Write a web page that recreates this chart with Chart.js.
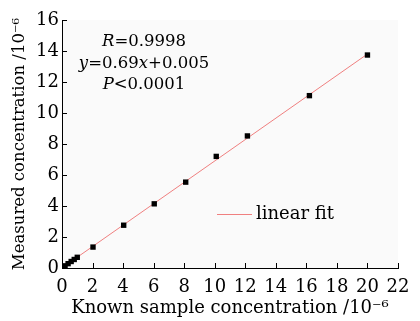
<!DOCTYPE html>
<html>
<head>
<meta charset="utf-8">
<script src="https://cdn.jsdelivr.net/npm/chart.js@4.4.1/dist/chart.umd.min.js"></script>
<style>
  html, body { margin: 0; padding: 0; background: #fff; }
  #wrap { width: 420px; height: 321px; }
</style>
</head>
<body>
<div id="wrap"><canvas id="myChart"></canvas></div>
<script>
// data
const knownConc = [0.1, 0.2, 0.4, 0.6, 0.8, 1.0, 2.03, 4.04, 6.04, 8.1, 10.1, 12.14, 16.2, 20.0];
const measuredConc = [0.07, 0.14, 0.28, 0.42, 0.55, 0.69, 1.35, 2.76, 4.14, 5.54, 7.2, 8.52, 11.12, 13.74];
const fitX = [0.1, 20.0];
const fitY = [0.074, 13.805];
const xTicks = [0, 2, 4, 6, 8, 10, 12, 14, 16, 18, 20, 22];
const yTicks = [0, 2, 4, 6, 8, 10, 12, 14, 16];
const statLines = [
  [{ t: "R", i: true }, { t: "=0.9998" }],
  [{ t: "y", i: true }, { t: "=0.69" }, { t: "x", i: true }, { t: "+0.005" }],
  [{ t: "P", i: true }, { t: "<0.0001" }],
];

const FONT = "'DejaVu Serif', 'Liberation Serif', serif";

const extras = {
  id: "extras",
  beforeDraw(chart) {
    const { ctx, chartArea: a } = chart;
    ctx.save();
    ctx.fillStyle = "#fafafa";
    ctx.fillRect(a.left, a.top, a.right - a.left, a.bottom - a.top);
    ctx.restore();
  },
  afterDraw(chart) {
    const { ctx, chartArea: a } = chart;
    const xs = chart.scales.x, ys = chart.scales.y;
    ctx.save();
    // inward ticks
    ctx.strokeStyle = "#000";
    ctx.lineWidth = 1;
    ctx.beginPath();
    xTicks.forEach((v) => {
      const px = Math.round(xs.getPixelForValue(v)) + 0.5;
      ctx.moveTo(px, a.bottom);
      ctx.lineTo(px, a.bottom - 5);
    });
    yTicks.forEach((v) => {
      const py = Math.round(ys.getPixelForValue(v)) + 0.5;
      ctx.moveTo(a.left, py);
      ctx.lineTo(a.left + 5, py);
    });
    ctx.stroke();

    // stats text
    ctx.fillStyle = "#000";
    ctx.textBaseline = "middle";
    ctx.textAlign = "left";
    const cx = 144;
    statLines.forEach((runs, k) => {
      const y = 42 + k * 21.5;
      let w = 0;
      runs.forEach((r) => {
        ctx.font = (r.i ? "italic " : "") + "16.5px " + FONT;
        w += ctx.measureText(r.t).width;
      });
      let x = cx - w / 2;
      runs.forEach((r) => {
        ctx.font = (r.i ? "italic " : "") + "16.5px " + FONT;
        ctx.fillText(r.t, x, y);
        x += ctx.measureText(r.t).width;
      });
    });

    // legend
    const fit = chart.data.datasets[1];
    ctx.strokeStyle = fit.borderColor;
    ctx.beginPath();
    ctx.moveTo(217, 214.5);
    ctx.lineTo(252, 214.5);
    ctx.stroke();
    ctx.font = "18px " + FONT;
    ctx.fillText(fit.label, 256, 214);
    ctx.restore();
  },
};

new Chart(document.getElementById("myChart"), {
  type: "scatter",
  data: {
    datasets: [
      {
        label: "data",
        data: knownConc.map((x, i) => ({ x: x, y: measuredConc[i] })),
        pointStyle: "rect",
        pointRadius: 3.8,
        backgroundColor: "#000",
        borderColor: "#000",
        borderWidth: 0,
        order: 1,
      },
      {
        label: "linear fit",
        type: "line",
        data: fitX.map((x, i) => ({ x: x, y: fitY[i] })),
        borderColor: "#f08080",
        borderWidth: 1,
        pointRadius: 0,
        fill: false,
        order: 2,
      },
    ],
  },
  options: {
    responsive: true,
    maintainAspectRatio: false,
    animation: false,
    layout: { padding: { top: 20, right: 22, left: 10, bottom: 2 } },
    plugins: { legend: { display: false }, tooltip: { enabled: false } },
    scales: {
      x: {
        type: "linear",
        min: 0,
        max: 22,
        afterBuildTicks: (s) => { s.ticks = xTicks.map((v) => ({ value: v })); },
        grid: { display: false, drawTicks: false },
        border: { display: true, color: "#000", width: 1 },
        ticks: { color: "#000", padding: 9, maxRotation: 0, font: { family: FONT, size: 18 } },
        title: {
          display: true,
          text: "Known sample concentration /10⁻⁶",
          color: "#000",
          padding: { top: 0, bottom: 0 },
          font: { family: FONT, size: 18 },
        },
        afterFit: (s) => { s.height = 51; },
      },
      y: {
        type: "linear",
        min: 0,
        max: 16,
        afterBuildTicks: (s) => { s.ticks = yTicks.map((v) => ({ value: v })); },
        grid: { display: false, drawTicks: false },
        border: { display: true, color: "#000", width: 1 },
        ticks: { color: "#000", padding: 3, font: { family: FONT, size: 18 } },
        title: {
          display: true,
          text: "Measured concentration /10⁻⁶",
          color: "#000",
          padding: { top: 0, bottom: 2 },
          font: { family: FONT, size: 16.5 },
        },
        afterFit: (s) => { s.width = 52; },
      },
    },
  },
  plugins: [extras],
});
</script>
</body>
</html>
